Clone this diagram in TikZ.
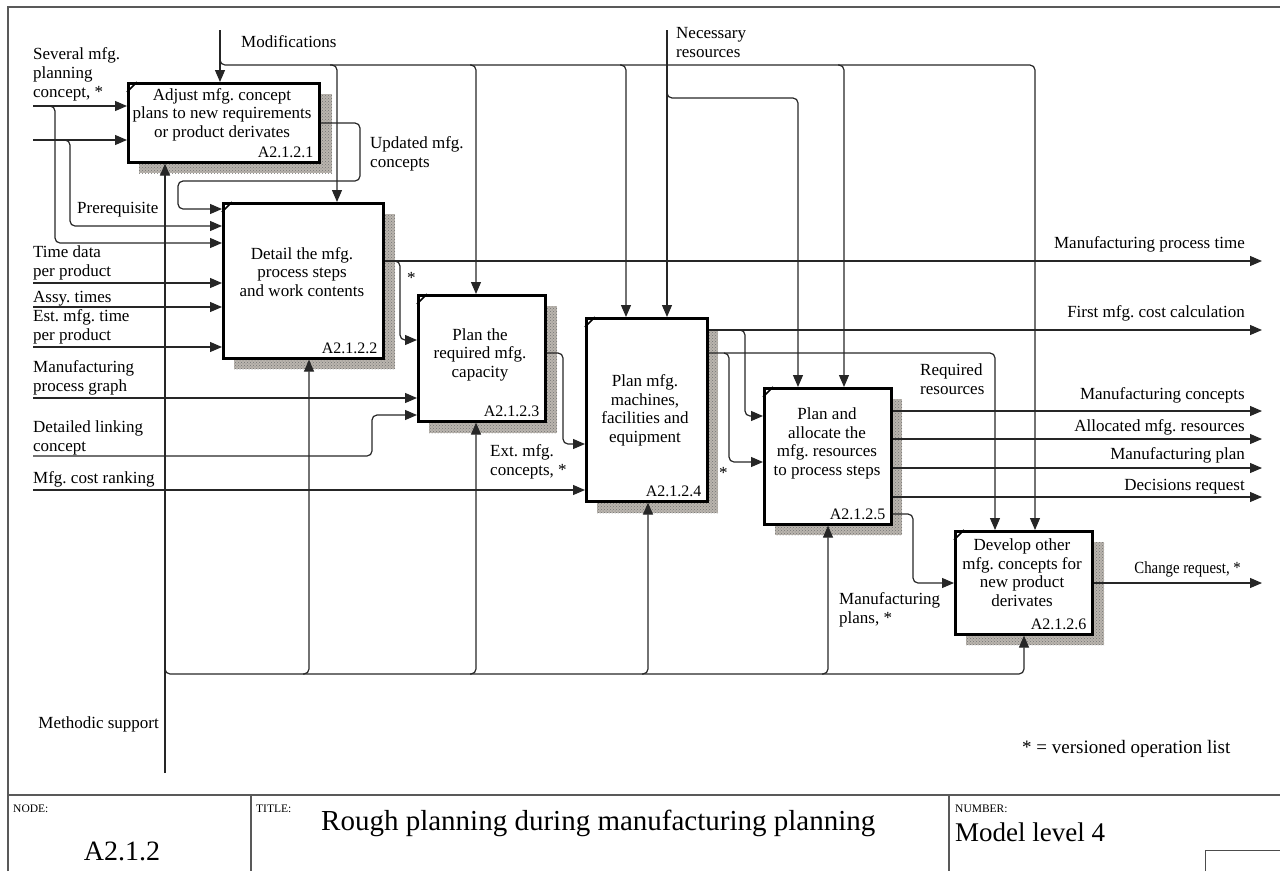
\documentclass[tikz,border=0pt]{standalone}
\usepackage{fontspec}
\setmainfont{Liberation Serif}
\usetikzlibrary{arrows.meta,patterns,calc}
\newcommand{\lblfont}{\fontsize{17}{19}\selectfont}
\newcommand{\boxfont}{\fontsize{17}{18.5}\selectfont}
\begin{document}
\frenchspacing
\begin{tikzpicture}[x=1pt,y=-1pt,
  conn/.style={line width=1.2pt, draw=black!85, rounded corners=5pt},
  arr/.style={conn, -{Triangle[length=12pt,width=10pt]}},
  fbox/.style={draw=black, line width=2.6pt, fill=white, anchor=north west, inner sep=0pt},
  shade/.style={fill={rgb,255:red,186;green,181;blue,174}},
  shadepat/.style={pattern=crosshatch dots, pattern color=black!55},
  tick/.style={line width=1.6pt},
  lbl/.style={font=\lblfont, inner sep=0pt, anchor=base west, align=left},
  rlbl/.style={font=\lblfont, inner sep=0pt, anchor=base east, align=right},
  btxt/.style={font=\boxfont, inner sep=0pt, anchor=base, align=center},
  bid/.style={font=\fontsize{16}{18}\selectfont, inner sep=0pt, anchor=base east},
  frame/.style={line width=1.8pt, draw=black!65},
  small/.style={font=\fontsize{11.5}{13}\selectfont, inner sep=0pt, anchor=base west},
  big/.style={font=\fontsize{28}{32}\selectfont, inner sep=0pt},
]
\useasboundingbox (0,0) rectangle (1280,871);

% ---------- frame ----------
\draw[frame] (8,871) -- (8,7) -- (1280,7);
\draw[frame] (8,795) -- (1280,795);
\draw[frame] (251,795) -- (251,871);
\draw[frame] (949,795) -- (949,871);
\draw[line width=1pt, draw=black!70] (1205,871) -- (1205,850) -- (1280,850);

% ---------- shadows ----------
\foreach \a/\b/\c/\d in {139/94/332/173, 234/214/395/369, 429/306/557/433, 597/329/718/513, 775/399/902/535, 966/542/1104/645}{
  \fill[shade] (\a,\b) rectangle (\c,\d);
  \fill[shadepat] (\a,\b) rectangle (\c,\d);
}

% ---------- boxes ----------
\node[fbox, minimum width=191pt, minimum height=79pt] (b1) at (127,82) {};
\node[fbox, minimum width=160pt, minimum height=155pt] (b2) at (222,202) {};
\node[fbox, minimum width=127pt, minimum height=126pt] (b3) at (417,294) {};
\node[fbox, minimum width=121pt, minimum height=183pt] (b4) at (585,317) {};
\node[fbox, minimum width=127pt, minimum height=136pt] (b5) at (763,387) {};
\node[fbox, minimum width=137pt, minimum height=103pt] (b6) at (954,530) {};

\foreach \n in {b1,b2,b3,b4,b5,b6}{
  \draw[tick] ([yshift=-10pt]\n.north west) -- ([xshift=10pt]\n.north west);
}

\node[btxt] (t1) at (222,137) {Adjust mfg. concept\\plans to new requirements\\or product derivates};
\node[btxt] (t2) at (302,296) {Detail the mfg.\\process steps\\and work contents};
\node[btxt] (t3) at (480,377) {Plan the\\required mfg.\\capacity};
\node[btxt] (t4) at (645,442) {Plan mfg.\\machines,\\facilities and\\equipment};
\node[btxt] (t5) at (827,475) {Plan and\\allocate the\\mfg. resources\\to process steps};
\node[btxt] (t6) at (1022,606) {Develop other\\mfg. concepts for\\new product\\derivates};

\node[bid] (id1) at ([xshift=-7pt,yshift=6pt]b1.south east) {A2.1.2.1};
\node[bid] (id2) at ([xshift=-7pt,yshift=6pt]b2.south east) {A2.1.2.2};
\node[bid] (id3) at ([xshift=-7pt,yshift=6pt]b3.south east) {A2.1.2.3};
\node[bid] (id4) at ([xshift=-7pt,yshift=6pt]b4.south east) {A2.1.2.4};
\node[bid] (id5) at ([xshift=-7pt,yshift=6pt]b5.south east) {A2.1.2.5};
\node[bid] (id6) at ([xshift=-7pt,yshift=6pt]b6.south east) {A2.1.2.6};

% ---------- free ends ----------
\coordinate (i1) at (33,106);
\coordinate (i2) at (33,140);
\coordinate (i3) at (33,283);
\coordinate (i4) at (33,307);
\coordinate (i5) at (33,347);
\coordinate (i6) at (33,398);
\coordinate (i7) at (33,456);
\coordinate (i8) at (33,490);
\coordinate (c1) at (220,30);
\coordinate (c2) at (667,30);
\coordinate (m1) at (165,773);
\coordinate (o1) at (1262,261);
\coordinate (o2) at (1262,330);
\coordinate (o3) at (1262,411);
\coordinate (o4) at (1262,439);
\coordinate (o5) at (1262,468);
\coordinate (o6) at (1262,497);
\coordinate (o7) at (1262,583);

% ---------- box 1 ----------
\draw[arr] (i1) -- (i1 -| b1.west);
\draw[arr] (i2) -- (i2 -| b1.west);
\draw[arr] (45,106) -- (55,106) -- (55,243) -- (b2.west |- 0,243);
\draw[arr] (60,140) -- (70,140) -- (70,226) -- (b2.west |- 0,226);
\draw[arr] (b1.east |- 0,123) -- (360,123) -- (360,181) -- (178,181) -- (178,209) -- (b2.west |- 0,209);

% controls
\draw[arr] (c1) -- (c1 |- b1.north);
\draw[arr] (220,55) -- (220,65) -- (1035,65) -- (b6.north -| 1035,0);
\draw[arr] (330,65) -- (337,65) -- (b2.north -| 337,0);
\draw[arr] (470,65) -- (476,65) -- (b3.north -| 476,0);
\draw[arr] (620,65) -- (626,65) -- (b4.north -| 626,0);
\draw[arr] (838,65) -- (844,65) -- (b5.north -| 844,0);
\draw[arr] (c2) -- (c2 |- b4.north);
\draw[arr] (667,90) -- (667,98) -- (798,98) -- (b5.north -| 798,0);

% ---------- box 2 ----------
\draw[arr] (i3) -- (i3 -| b2.west);
\draw[arr] (i4) -- (i4 -| b2.west);
\draw[arr] (i5) -- (i5 -| b2.west);
\draw[arr] (b2.east |- o1) -- (o1);
\draw[arr] (395,261) -- (400,261) -- (400,340) -- (b3.west |- 0,340);

% ---------- box 3 ----------
\draw[arr] (i6) -- (i6 -| b3.west);
\draw[arr] (i7) -- (372,456) -- (372,415) -- (b3.west |- 0,415);
\draw[arr] (b3.east |- 0,353) -- (563,353) -- (563,444) -- (b4.west |- 0,444);

% ---------- box 4 ----------
\draw[arr] (i8) -- (i8 -| b4.west);
\draw[arr] (b4.east |- o2) -- (o2);
\draw[arr] (740,330) -- (745,330) -- (745,416) -- (b5.west |- 0,416);
\draw[arr] (b4.east |- 0,353) -- (995,353) -- (b6.north -| 995,0);
\draw[arr] (724,353) -- (729,353) -- (729,462) -- (b5.west |- 0,462);

% ---------- box 5 ----------
\draw[arr] (b5.east |- o3) -- (o3);
\draw[arr] (b5.east |- o4) -- (o4);
\draw[arr] (b5.east |- o5) -- (o5);
\draw[arr] (b5.east |- o6) -- (o6);
\draw[arr] (b5.east |- 0,514) -- (913,514) -- (913,583) -- (b6.west |- 0,583);

% ---------- box 6 ----------
\draw[arr] (b6.east |- o7) -- (o7);

% ---------- mechanisms ----------
\draw[arr] (m1) -- (m1 |- b1.south);
\draw[arr] (165,668) -- (165,674) -- (1024,674) -- (b6.south -| 1024,0);
\draw[arr] (303,674) -- (309,674) -- (b2.south -| 309,0);
\draw[arr] (470,674) -- (476,674) -- (b3.south -| 476,0);
\draw[arr] (642,674) -- (648,674) -- (b4.south -| 648,0);
\draw[arr] (822,674) -- (828,674) -- (b5.south -| 828,0);

% ---------- labels ----------
\node[lbl] (l1) at (33,97) {Several mfg.\\planning\\concept, *};
\node[lbl] (l2) at (241,47) {Modifications};
\node[lbl] (l3) at (77,213) {Prerequisite};
\node[lbl] (l4) at (370,167) {Updated mfg.\\concepts};
\node[lbl] (l5) at (676,57) {Necessary\\resources};
\node[lbl] (l6) at (33,276) {Time data\\per product};
\node[lbl] (l7) at (33,302) {Assy. times};
\node[lbl] (l8) at (33,340) {Est. mfg. time\\per product};
\node[lbl] (l9) at (33,391) {Manufacturing\\process graph};
\node[lbl] (l10) at (33,451) {Detailed linking\\concept};
\node[lbl] (l11) at (33,483) {Mfg. cost ranking};
\node[lbl] (l12) at (407,283) {*};
\node[lbl] (l13) at (490,475) {Ext. mfg.\\concepts, *};
\node[lbl] (l14) at (719,478) {*};
\node[lbl] (l15) at (920,394) {Required\\resources};
\node[rlbl] (l16) at (1245,248) {Manufacturing process time};
\node[rlbl] (l17) at (1245,317) {First mfg. cost calculation};
\node[rlbl] (l18) at (1245,399) {Manufacturing concepts};
\node[rlbl] (l19) at (1245,431) {Allocated mfg. resources};
\node[rlbl] (l20) at (1245,459) {Manufacturing plan};
\node[rlbl] (l21) at (1245,490) {Decisions request};
\node[rlbl] (l22) at (1241,573) {\scalebox{0.87}[1]{Change request, *}};
\node[lbl] (l23) at (839,623) {Manufacturing\\plans, *};
\node[rlbl] (l24) at (159,728) {Methodic support};
\node[lbl, font=\fontsize{19}{22}\selectfont] (l25) at (1022,753) {* = versioned operation list};

% ---------- title block ----------
\node[small] (n1) at (13,812) {NODE:};
\node[small] (n2) at (256,812) {TITLE:};
\node[small] (n3) at (955,812) {NUMBER:};
\node[big, anchor=base] (n4) at (122,860) {A2.1.2};
\node[big, font=\fontsize{29}{33}\selectfont, anchor=base west] (n5) at (321,830) {Rough planning during manufacturing planning};
\node[big, font=\fontsize{27}{31}\selectfont, anchor=base west] (n6) at (955,841) {Model level 4};
\end{tikzpicture}
\end{document}
